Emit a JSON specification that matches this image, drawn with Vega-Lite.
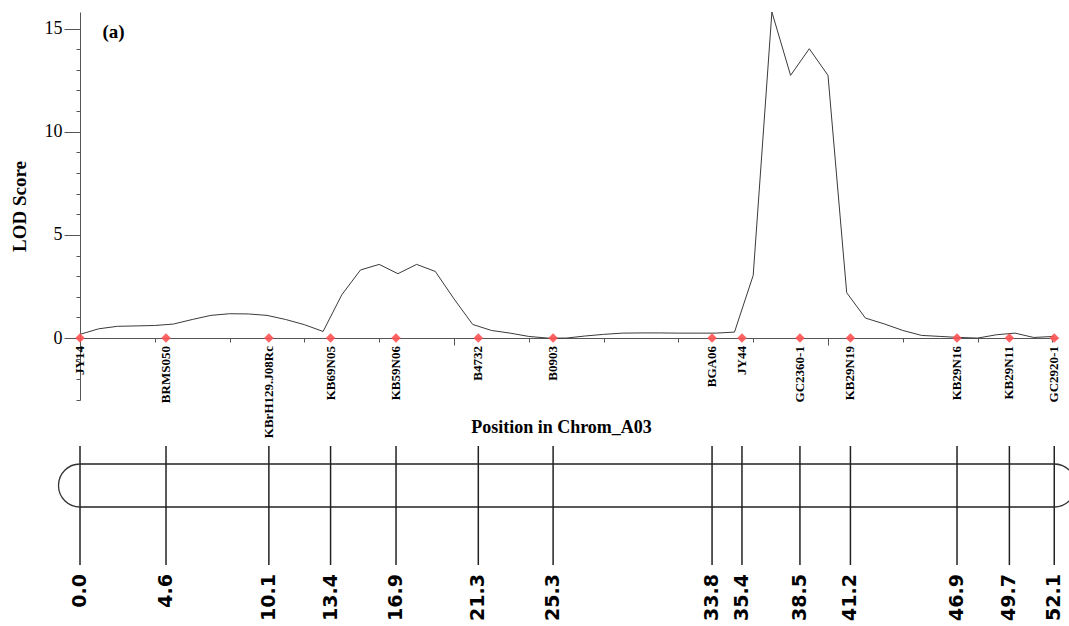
{
  "$schema": "https://vega.github.io/schema/vega-lite/v6.json",
  "autosize": {"type": "pad"},
  "padding": {"left": 10, "top": 10, "right": 0, "bottom": 0},
  "background": "white",
  "bounds": "flush",
  "spacing": 46,
  "datasets": {
    "markers": [
      {"name": "JY14", "pos": 0.0},
      {"name": "BRMS050", "pos": 4.6},
      {"name": "KBrH129.J08Rc", "pos": 10.1},
      {"name": "KB69N05", "pos": 13.4},
      {"name": "KB59N06", "pos": 16.9},
      {"name": "B4732", "pos": 21.3},
      {"name": "B0903", "pos": 25.3},
      {"name": "BGA06", "pos": 33.8},
      {"name": "JY44", "pos": 35.4},
      {"name": "GC2360-1", "pos": 38.5},
      {"name": "KB29N19", "pos": 41.2},
      {"name": "KB29N16", "pos": 46.9},
      {"name": "KB29N11", "pos": 49.7},
      {"name": "GC2920-1", "pos": 52.1}
    ],
    "lod": [
      {"pos": 0, "lod": 0.18}, {"pos": 1, "lod": 0.45}, {"pos": 2, "lod": 0.57},
      {"pos": 3, "lod": 0.59}, {"pos": 4, "lod": 0.61}, {"pos": 5, "lod": 0.68},
      {"pos": 6, "lod": 0.9}, {"pos": 7, "lod": 1.1}, {"pos": 8, "lod": 1.18},
      {"pos": 9, "lod": 1.17}, {"pos": 10, "lod": 1.1}, {"pos": 11, "lod": 0.9},
      {"pos": 12, "lod": 0.65}, {"pos": 13, "lod": 0.32}, {"pos": 14, "lod": 2.1},
      {"pos": 15, "lod": 3.3}, {"pos": 16, "lod": 3.57}, {"pos": 17, "lod": 3.12},
      {"pos": 18, "lod": 3.57}, {"pos": 19, "lod": 3.23}, {"pos": 20, "lod": 1.9},
      {"pos": 21, "lod": 0.66}, {"pos": 22, "lod": 0.37}, {"pos": 23, "lod": 0.24},
      {"pos": 24, "lod": 0.08}, {"pos": 25, "lod": 0.0}, {"pos": 26, "lod": 0.0},
      {"pos": 27, "lod": 0.1}, {"pos": 28, "lod": 0.18}, {"pos": 29, "lod": 0.24},
      {"pos": 30, "lod": 0.25}, {"pos": 31, "lod": 0.25}, {"pos": 32, "lod": 0.24},
      {"pos": 33, "lod": 0.24}, {"pos": 34, "lod": 0.24}, {"pos": 35, "lod": 0.29},
      {"pos": 36, "lod": 3.04}, {"pos": 37, "lod": 15.8}, {"pos": 38, "lod": 12.73},
      {"pos": 39, "lod": 14.02}, {"pos": 40, "lod": 12.73}, {"pos": 41, "lod": 2.2},
      {"pos": 42, "lod": 0.97}, {"pos": 43, "lod": 0.69}, {"pos": 44, "lod": 0.37},
      {"pos": 45, "lod": 0.13}, {"pos": 46, "lod": 0.08}, {"pos": 47, "lod": 0.03},
      {"pos": 48, "lod": 0.0}, {"pos": 49, "lod": 0.16}, {"pos": 50, "lod": 0.24},
      {"pos": 51, "lod": 0.03}, {"pos": 52.1, "lod": 0.08}
    ]
  },
  "config": {
    "view": {"stroke": null},
    "axis": {"grid": false}
  },
  "vconcat": [
    {
      "width": 978,
      "height": 388,
      "resolve": {"scale": {"y": "shared"}, "axis": {"y": "independent"}},
      "layer": [
        {
          "data": {"name": "lod"},
          "mark": {"type": "line", "color": "#3a3a3a", "strokeWidth": 1},
          "encoding": {
            "x": {
              "field": "pos", "type": "quantitative",
              "scale": {"domain": [0, 52.3], "nice": false, "zero": false},
              "axis": {
                "orient": "bottom", "offset": -62,
                "values": [0, 2, 4, 6, 8, 10, 12, 14, 16, 18, 20, 22, 24, 26, 28, 30, 32, 34, 36, 38, 40, 42, 44, 46, 48, 50, 52],
                "labels": false,
                "domainColor": "#555", "domainWidth": 1,
                "tickColor": "#555", "tickWidth": 1,
                "tickSize": {"expr": "datum.value % 10 === 0 ? 7 : 4"},
                "title": "Position in Chrom_A03",
                "titleFont": "Liberation Serif", "titleFontWeight": "bold", "titleFontSize": 18,
                "titleColor": "#000",
                "titleX": 481, "titleY": 94, "titleAlign": "center", "titleBaseline": "alphabetic"
              }
            },
            "y": {
              "field": "lod", "type": "quantitative",
              "scale": {"domain": [-3, 15.8], "nice": false, "zero": false},
              "axis": {
                "orient": "left",
                "values": [0, 5, 10, 15],
                "labelFont": "Liberation Serif", "labelFontSize": 18, "labelColor": "#000",
                "labelPadding": 2, "labelFlush": false,
                "domainColor": "#555", "domainWidth": 1,
                "tickColor": "#555", "tickWidth": 1, "tickSize": 16,
                "title": "LOD Score",
                "titleFont": "Liberation Serif", "titleFontWeight": "bold", "titleFontSize": 19,
                "titleColor": "#000", "titlePadding": 15
              }
            }
          }
        },
        {
          "data": {"name": "markers"},
          "mark": {"type": "point", "shape": "diamond", "filled": true, "color": "#ff5252", "opacity": 0.9, "size": 90},
          "encoding": {
            "x": {"field": "pos", "type": "quantitative"},
            "y": {
              "datum": 0, "type": "quantitative",
              "axis": {
                "orient": "left",
                "values": [-3, -2, -1, 1, 2, 3, 4, 6, 7, 8, 9, 11, 12, 13, 14],
                "labels": false, "domain": false, "title": null,
                "tickColor": "#555", "tickWidth": 1, "tickSize": 4
              }
            }
          }
        },
        {
          "data": {"name": "markers"},
          "mark": {
            "type": "text", "angle": 270, "align": "right", "baseline": "middle", "dx": -8,
            "font": "Liberation Serif", "fontWeight": "bold", "fontSize": 13, "color": "#000"
          },
          "encoding": {
            "x": {"field": "pos", "type": "quantitative"},
            "y": {"datum": 0, "type": "quantitative", "axis": null},
            "text": {"field": "name"}
          }
        },
        {
          "data": {"values": [{"panel": "(a)"}]},
          "mark": {
            "type": "text", "align": "left", "baseline": "alphabetic",
            "font": "Liberation Serif", "fontWeight": "bold", "fontSize": 19, "color": "#000"
          },
          "encoding": {
            "x": {"datum": 1.2, "type": "quantitative"},
            "y": {"datum": 14.55, "type": "quantitative", "axis": null},
            "text": {"field": "panel"}
          }
        }
      ]
    },
    {
      "width": 978,
      "height": 119,
      "layer": [
        {
          "data": {"name": "markers"},
          "mark": {"type": "rule", "color": "#222", "strokeWidth": 1.5},
          "encoding": {
            "x": {
              "field": "pos", "type": "quantitative",
              "scale": {"domain": [0, 52.3], "nice": false, "zero": false},
              "axis": null
            },
            "y": {
              "datum": -3.7, "type": "quantitative",
              "scale": {"domain": [-3.7, 1.84], "nice": false, "zero": false},
              "axis": null
            },
            "y2": {"datum": 1.84}
          }
        },
        {
          "data": {"values": [{}]},
          "mark": {"type": "rule", "color": "#222", "strokeWidth": 1.5},
          "encoding": {
            "x": {"datum": 0, "type": "quantitative"},
            "x2": {"datum": 52.1},
            "y": {"datum": 1, "type": "quantitative"}
          }
        },
        {
          "data": {"values": [{}]},
          "mark": {"type": "rule", "color": "#222", "strokeWidth": 1.5},
          "encoding": {
            "x": {"datum": 0, "type": "quantitative"},
            "x2": {"datum": 52.1},
            "y": {"datum": -1, "type": "quantitative"}
          }
        },
        {
          "data": {"values": [{}]},
          "mark": {"type": "point", "shape": "M 0 -1 A 1 1 0 0 0 0 1", "filled": false, "color": "#333", "strokeWidth": 1.3, "size": 1849, "opacity": 1},
          "encoding": {
            "x": {"datum": 0, "type": "quantitative"},
            "y": {"datum": 0, "type": "quantitative"}
          }
        },
        {
          "data": {"values": [{}]},
          "mark": {"type": "point", "shape": "M 0 -1 A 1 1 0 0 1 0 1", "filled": false, "color": "#333", "strokeWidth": 1.3, "size": 1849, "opacity": 1},
          "encoding": {
            "x": {"datum": 52.1, "type": "quantitative"},
            "y": {"datum": 0, "type": "quantitative"}
          }
        },
        {
          "data": {"name": "markers"},
          "mark": {
            "type": "text", "angle": 270, "align": "right", "baseline": "middle", "dx": -9,
            "font": "DejaVu Sans", "fontWeight": "bold", "fontSize": 19, "color": "#000"
          },
          "encoding": {
            "x": {"field": "pos", "type": "quantitative"},
            "y": {"datum": -3.7, "type": "quantitative"},
            "text": {"field": "pos", "type": "quantitative", "format": ".1f"}
          }
        }
      ]
    }
  ]
}
